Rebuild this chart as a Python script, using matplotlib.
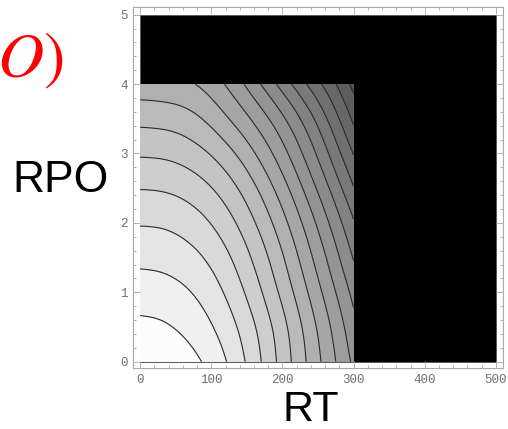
import numpy as np
import matplotlib

matplotlib.use("Agg")
import matplotlib.pyplot as plt
import matplotlib.tri as mtri
from matplotlib.patches import Rectangle

# field sampled off the shaded contour map (level index, 1 per contour line)
RT = [0, 25, 50, 75, 100, 125, 150, 175, 200, 225, 250, 275, 300]
RPO = [0.0, 0.5, 1.0, 1.5, 2.0, 2.5, 3.0, 3.5, 4.0]
Z_ROWS = [
    [0.00, 0.08, 0.34, 0.76, 1.34, 2.12, 3.10, 4.22, 5.40, 6.60, 7.80, 9.00, 10.20],
    [0.75, 0.83, 1.05, 1.41, 1.93, 2.63, 3.51, 4.54, 5.67, 6.88, 8.12, 9.38, 10.68],
    [1.50, 1.56, 1.73, 2.05, 2.55, 3.25, 4.13, 5.15, 6.27, 7.47, 8.72, 10.00, 11.30],
    [2.25, 2.30, 2.46, 2.76, 3.24, 3.92, 4.78, 5.78, 6.90, 8.12, 9.40, 10.72, 12.07],
    [3.08, 3.12, 3.27, 3.57, 4.04, 4.70, 5.54, 6.53, 7.65, 8.88, 10.18, 11.53, 12.90],
    [4.04, 4.08, 4.22, 4.51, 4.97, 5.62, 6.45, 7.44, 8.57, 9.82, 11.14, 12.52, 13.94],
    [5.12, 5.16, 5.30, 5.60, 6.08, 6.74, 7.56, 8.53, 9.63, 10.85, 12.17, 13.59, 15.05],
    [6.30, 6.35, 6.48, 6.78, 7.30, 8.00, 8.82, 9.76, 10.82, 12.00, 13.30, 14.72, 16.20],
    [7.60, 7.65, 7.75, 7.97, 8.47, 9.22, 10.17, 11.25, 12.40, 13.58, 14.76, 15.98, 17.30],
]
LEVELS = list(range(1, 18))
BAND_GRAY = [252, 240, 228, 217, 206, 196, 186, 176, 166, 157, 148, 139, 130, 121, 112, 103, 94, 85]

RT_MAX = 500
RPO_MAX = 5
X_TICKS = [0, 100, 200, 300, 400, 500]
Y_TICKS = [0, 1, 2, 3, 4, 5]

W, H = 508, 429


def main():
    plt.rcParams["mathtext.fontset"] = "stix"
    fig = plt.figure(figsize=(W / 100, H / 100), dpi=100)
    ax = fig.add_axes([133 / W, 1 - 368 / H, 370 / W, 361 / H])

    xx, yy = np.meshgrid(RT, RPO)
    z = np.array(Z_ROWS).ravel()
    sx = 75.0
    tri_n = mtri.Triangulation(xx.ravel() / sx, yy.ravel())
    interp = mtri.CubicTriInterpolator(tri_n, z, kind="min_E")
    tri_r, z_r = mtri.UniformTriRefiner(tri_n).refine_field(z, triinterpolator=interp, subdiv=4)
    tri_p = mtri.Triangulation(tri_r.x * sx, tri_r.y, tri_r.triangles)

    ax.add_patch(Rectangle((0, 0), RT_MAX, RPO_MAX, facecolor="black", edgecolor="#555555", lw=0.6, zorder=0.5))
    cols = ["#%02x%02x%02x" % (g, g, g) for g in BAND_GRAY]
    ax.tricontourf(tri_p, z_r, levels=[-1] + LEVELS + [19], colors=cols, zorder=1)
    ax.tricontour(tri_p, z_r, levels=LEVELS, colors="#2b2b2b", linewidths=0.8, zorder=2)

    ax.set_xlim(-10, 510)
    ax.set_ylim(-0.09, 5.11)
    ax.set_xticks(X_TICKS)
    ax.set_yticks(Y_TICKS)
    ax.set_xticks(np.arange(0, 501, 20), minor=True)
    ax.set_yticks(np.arange(0, 5.01, 0.2), minor=True)
    for s in ax.spines.values():
        s.set_color("#a8a8a8")
        s.set_linewidth(0.8)
    ax.tick_params(which="both", direction="in", top=True, right=True, color="#a8a8a8", width=0.6)
    ax.tick_params(which="major", length=5, labelcolor="#707070", labelsize=9, pad=4)
    ax.tick_params(which="minor", length=2.5)
    for lab in ax.get_xticklabels() + ax.get_yticklabels():
        lab.set_fontfamily("Liberation Mono")

    fig.text(311 / W, 1 - 421 / H, "RT", fontsize=31, family="Liberation Sans", ha="center", va="baseline")
    fig.text(12 / W, 1 - 192 / H, "RPO", fontsize=32, family="Liberation Sans", ha="left", va="baseline")
    fig.text(63 / W, 1 - 77 / H, r"$O)$", fontsize=46, color="#ff0000", ha="right", va="baseline")

    fig.savefig("out.png", dpi=100)


if __name__ == "__main__":
    main()
